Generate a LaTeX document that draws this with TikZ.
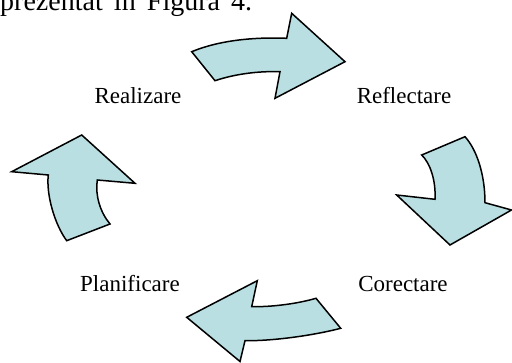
\documentclass[tikz,border=0pt]{standalone}
\usepackage{fontspec}
\setmainfont{Liberation Serif}
\usepackage{tikz}
\usetikzlibrary{positioning}
\definecolor{arrowfill}{RGB}{185,223,227}

\begin{document}
\begin{tikzpicture}[x=1pt, y=-1pt,
  phase/.style={font=\fontsize{23}{27}\selectfont, anchor=base, inner sep=0pt},
  cyclearrow/.style={draw=black, fill=arrowfill, line width=1.5pt, line join=miter}]
  \useasboundingbox (0,0) rectangle (512,363);

  \node (intro) [anchor=base west, inner sep=0pt, font=\fontsize{28}{32}\selectfont] at (0,11) {\makebox[252pt][s]{prezentat în Figura 4.}};

  \node (realizare) [phase] at (138,104) {Realizare};
  \node (reflectare) [phase] at (404,104) {Reflectare};
  \node (planificare) [phase] at (130,292) {Planificare};
  \node (corectare) [phase] at (403,292) {Corectare};

  % top arrow
  \draw[cyclearrow] (191.7,51.7) .. controls (220,40) and (255,37) .. (286.7,38.3)
    -- (291.7,13.3) -- (345,61.7) -- (275,98.3) -- (280,71.7)
    .. controls (258,71) and (235,74) .. (215,80.7) -- cycle;
  % right arrow
  \draw[cyclearrow] (421.7,155) -- (465,136.7)
    .. controls (477,150) and (485,175) .. (485,202.7)
    -- (511.5,210) -- (450,245) -- (396.7,195) -- (435,199.3)
    .. controls (436,180) and (430,163) .. (421.7,155) -- cycle;
  % bottom arrow
  \draw[cyclearrow] (316,298.3) -- (340.7,328.3)
    .. controls (315,335) and (275,341) .. (245,340.7)
    -- (240,361.5) -- (186.7,317.3) -- (257.3,280.7) -- (251.7,306.7)
    .. controls (275,307) and (300,303) .. (316,298.3) -- cycle;
  % left arrow
  \draw[cyclearrow] (81.7,135) -- (135,183.3) -- (97.3,180)
    .. controls (95,195) and (100,212) .. (110,224)
    -- (66.7,240.7)
    .. controls (55,225) and (46,195) .. (48.3,175)
    -- (11.7,171.7) -- cycle;
\end{tikzpicture}
\end{document}
